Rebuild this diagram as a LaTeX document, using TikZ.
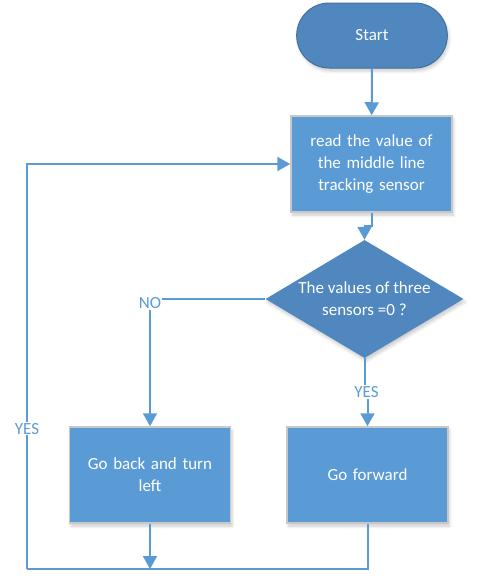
\documentclass[tikz,border=0pt]{standalone}
\usepackage{fontspec}
\setmainfont{Carlito}
\usetikzlibrary{shapes.geometric,shapes.misc,arrows.meta,positioning,shadows.blur}

\definecolor{flowblue}{RGB}{91,155,213}
\definecolor{darkblue}{RGB}{79,135,190}
\definecolor{edgeblue}{RGB}{65,113,156}
\definecolor{boxedge}{RGB}{200,200,200}

\tikzset{
   boxshadow/.style={blur shadow={shadow xshift=1.5pt, shadow yshift=-3pt, shadow blur radius=3pt, shadow opacity=20}},
   process/.style={rectangle, draw=boxedge, line width=1.5pt, fill=flowblue, text=white,
                   minimum width=161pt, minimum height=96pt, text width=145pt, align=center, boxshadow},
   terminal/.style={rounded rectangle, draw=edgeblue, line width=1pt, fill=darkblue, text=white,
                   minimum width=162pt, minimum height=65pt, boxshadow},
   decision/.style={diamond, fill=darkblue, text=white, inner sep=0pt, shape aspect=1.68,
                   minimum width=198pt, minimum height=118pt, align=center, boxshadow},
   flow/.style={draw=flowblue, line width=2pt},
   arrow/.style={flow, -{Triangle[width=14pt,length=13pt]}},
   lbl/.style={fill=white, text=flowblue, inner sep=1pt}
}

\begin{document}
\begin{tikzpicture}[x=1pt,y=-1pt]
\fontsize{17}{22}\selectfont
\useasboundingbox (0,0) rectangle (485,581);

%% Boxes
\node [terminal] (start) at (372,35.5) {Start};
\node [process] (read) at (371.5,164) {read the value of\\the middle line\\tracking sensor};
\node [decision] (check) at (364.5,299) {The values of three\\sensors =0 ?};
\node [process] (back) at (150,475) {Go back and turn\\left};
\node [process] (fwd) at (367.5,475) {Go forward};

%% Connectors
\coordinate (loop) at (27,569);
\draw [arrow] (start) -- (read);
\draw [arrow] (read.south) -- ++(0,13) -| (check.north);
\draw [arrow] (check.west) -| node[lbl,yshift=-4pt] {NO} (back.north);
\node [lbl] (yes) at (366.5,392) {YES};
\draw [flow] (check.south) -- (check.south |- yes.north);
\draw [arrow] (fwd.north |- yes.south) -- (fwd.north);
\draw [arrow] (back.south) -- (back.south |- loop);
\draw [flow] (fwd.south) |- (loop);
\draw [arrow] (loop) |- node[lbl,pos=0.173] {YES} (read.west);

\end{tikzpicture}
\end{document}
